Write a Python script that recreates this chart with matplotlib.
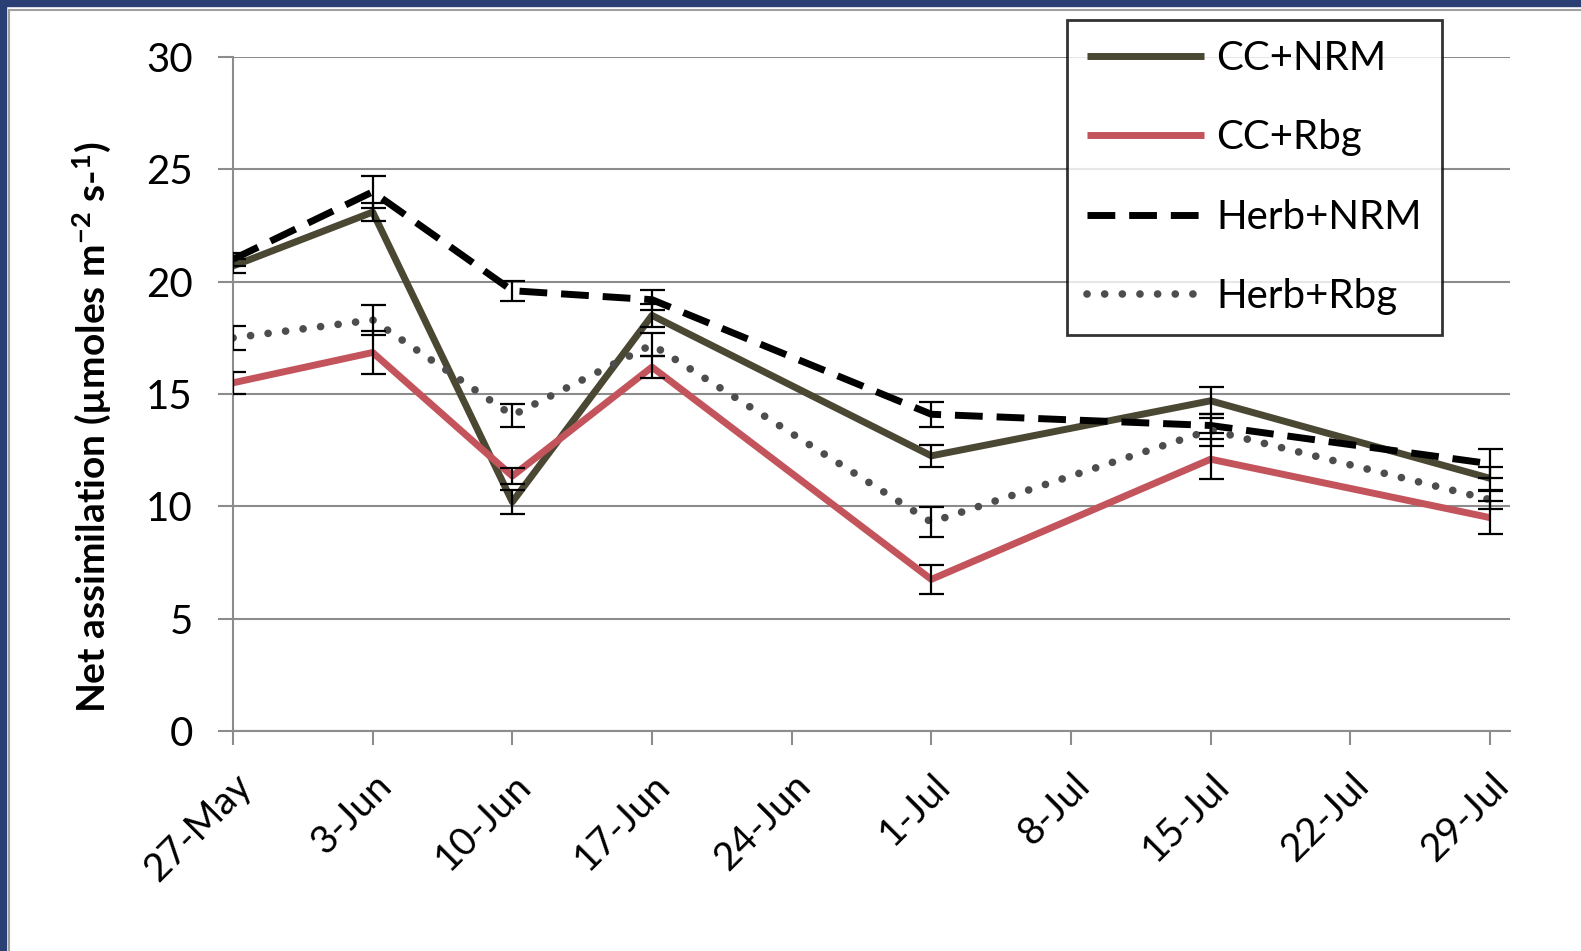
import numpy as np
import pandas as pd
import matplotlib
matplotlib.use("Agg")
import matplotlib.pyplot as plt
from matplotlib.patches import Rectangle
from matplotlib.lines import Line2D

plt.rcParams["font.family"] = ["Lato", "DejaVu Sans"]
plt.rcParams["mathtext.fontset"] = "custom"
plt.rcParams["mathtext.rm"] = "Lato:bold"
plt.rcParams["mathtext.default"] = "rm"

# Sampling dates (2012 season) and weekly axis ticks
sample_dates = ["2012-05-27", "2012-06-03", "2012-06-10", "2012-06-17",
                "2012-07-01", "2012-07-15", "2012-07-29"]
tick_dates = ["2012-05-27", "2012-06-03", "2012-06-10", "2012-06-17", "2012-06-24",
              "2012-07-01", "2012-07-08", "2012-07-15", "2012-07-22", "2012-07-29"]
tick_labels = ["27-May", "3-Jun", "10-Jun", "17-Jun", "24-Jun",
               "1-Jul", "8-Jul", "15-Jul", "22-Jul", "29-Jul"]

# Net assimilation (umol m-2 s-1) and standard errors per treatment
cc_nrm = [20.7, 23.1, 10.2, 18.5, 12.25, 14.7, 11.25]
cc_nrm_se = [0.3, 0.4, 0.55, 0.5, 0.5, 0.6, 0.5]
cc_rbg = [15.5, 16.85, 11.35, 16.2, 6.75, 12.1, 9.5]
cc_rbg_se = [0.5, 0.95, 0.35, 0.5, 0.63, 0.9, 0.75]
herb_nrm = [21.0, 24.0, 19.6, 19.2, 14.1, 13.6, 11.9]
herb_nrm_se = [0.3, 0.7, 0.45, 0.45, 0.55, 0.35, 0.65]
herb_rbg = [17.5, 18.3, 14.05, 17.2, 9.3, 13.4, 10.3]
herb_rbg_se = [0.55, 0.65, 0.5, 0.5, 0.65, 0.7, 0.4]

x = pd.to_datetime(sample_dates)
ticks = pd.to_datetime(tick_dates)

fig = plt.figure(figsize=(15.81, 9.51), dpi=100)
ax = fig.add_axes([0.1474, 0.2313, 0.8076, 0.7087])

# slide frame around the chart
fig.patches.append(Rectangle((0, 0), 6 / 1581, 1, transform=fig.transFigure,
                             color="#2a3f73", zorder=0))
fig.patches.append(Rectangle((0, 1 - 6 / 951), 1, 6 / 951, transform=fig.transFigure,
                             color="#2a3f73", zorder=0))
fig.lines.append(Line2D([8.5 / 1581, 8.5 / 1581], [0, 1 - 10 / 951], transform=fig.transFigure,
                        color="#a0a0a0", lw=1.5))
fig.lines.append(Line2D([8.5 / 1581, 1], [1 - 10 / 951, 1 - 10 / 951], transform=fig.transFigure,
                        color="#a0a0a0", lw=1.5))

series = [
    ("CC+NRM", cc_nrm, cc_nrm_se, dict(color="#4a4733", ls="-", lw=5)),
    ("CC+Rbg", cc_rbg, cc_rbg_se, dict(color="#c4545c", ls="-", lw=5)),
    ("Herb+NRM", herb_nrm, herb_nrm_se, dict(color="black", ls=(0, (4, 2)), lw=5)),
    ("Herb+Rbg", herb_rbg, herb_rbg_se, dict(color="#4d4d4d", ls=(0, (0.01, 2.3)), lw=5.5,
                                              dash_capstyle="round")),
]

handles = []
for name, y, se, style in series:
    style = dict(style)
    cap = style.pop("dash_capstyle", "butt")
    h, = ax.plot(x, y, solid_capstyle="butt", dash_capstyle=cap, label=name,
                 zorder=3, **style)
    handles.append(h)
for name, y, se, style in series:
    ax.errorbar(x, y, yerr=se, fmt="none", ecolor="black", elinewidth=1.6,
                capsize=9, capthick=1.6, zorder=4)

ax.set_ylim(0, 30)
ax.set_yticks(np.arange(0, 31, 5))
ax.set_xlim(pd.Timestamp("2012-05-27"), pd.Timestamp("2012-07-30"))
ax.set_xticks(ticks)
ax.set_xticklabels(tick_labels, rotation=45, ha="right", va="top",
                   rotation_mode="anchor", fontsize=28)
ax.tick_params(axis="y", labelsize=29, length=11, width=1.5, color="#8c8c8c", pad=18)
ax.tick_params(axis="x", length=10, width=1.5, color="#8c8c8c", pad=16)

ax.grid(axis="y", color="#8c8c8c", lw=1.5)
ax.set_axisbelow(True)
for side in ["top", "right"]:
    ax.spines[side].set_visible(False)
for side in ["left", "bottom"]:
    ax.spines[side].set_color("#8c8c8c")
    ax.spines[side].set_linewidth(1.5)

ax.set_ylabel("Net assimilation (µmoles m$^{-2}$ s-$^{1}$)", fontsize=28,
              fontweight="bold")
ax.yaxis.set_label_coords(-0.094, 0.45)

leg = fig.legend(handles=handles, loc="upper left", bbox_to_anchor=(0.675, 0.979),
                 fontsize=29, frameon=True, fancybox=False, edgecolor="black",
                 handlelength=2.9, handletextpad=0.3, labelspacing=1.05,
                 borderpad=0.5, borderaxespad=0)
leg.get_frame().set_linewidth(2)

fig.savefig("out.png", dpi=100, facecolor="white")
